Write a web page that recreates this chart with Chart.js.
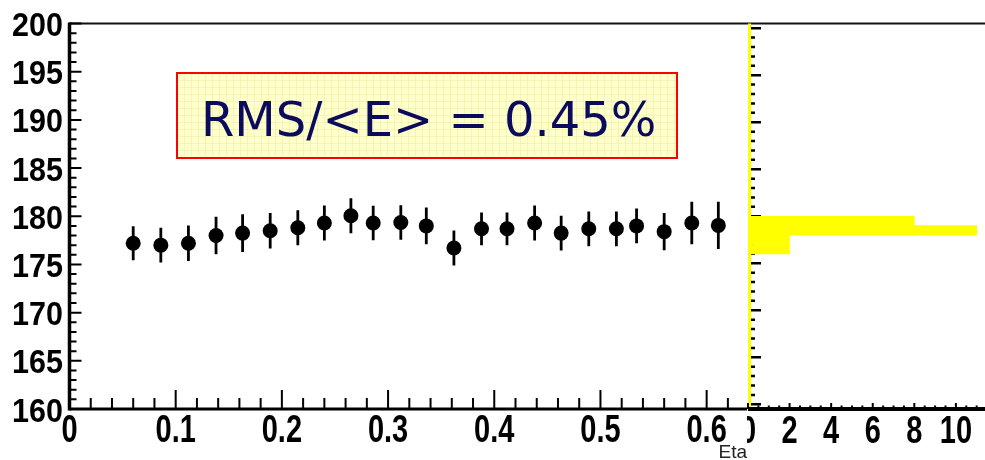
<!DOCTYPE html>
<html>
<head>
<meta charset="utf-8">
<script src="https://cdn.jsdelivr.net/npm/chart.js"></script>
<style>
  html, body { margin: 0; padding: 0; background: #fff; }
  #wrap { position: relative; width: 985px; height: 460px; overflow: hidden; }
  #histCanvas, #etaCanvas { position: absolute; left: 0; top: 0; }
</style>
</head>
<body>
<div id="wrap">
  <canvas id="histCanvas" width="985" height="460"></canvas>
  <canvas id="etaCanvas" width="747" height="460"></canvas>
</div>
<script>
// mean energy in each eta bin, with its error
const etaBins = [0.060, 0.086, 0.112, 0.138, 0.163, 0.189, 0.215, 0.240, 0.265, 0.286, 0.312, 0.336,
                 0.362, 0.388, 0.412, 0.438, 0.463, 0.489, 0.515, 0.534, 0.560, 0.586, 0.611];
const meanE = [177.2, 177.0, 177.2, 178.0, 178.25, 178.5, 178.8, 179.3, 180.05, 179.3, 179.35, 179.0,
               176.7, 178.7, 178.7, 179.3, 178.25, 178.7, 178.7, 179.0, 178.4, 179.3, 179.05];
const meanErr = [1.77, 1.8, 1.85, 1.94, 1.97, 1.85, 1.82, 1.82, 1.82, 1.8, 1.8, 1.9,
                 1.82, 1.7, 1.7, 1.82, 1.8, 1.8, 1.8, 1.8, 1.94, 2.2, 2.46];

// projection of the means onto the energy axis (1 unit bins)
const projBins = [176.5, 177.5, 178.5, 179.5];
const projCounts = [2, 2, 11, 8];

const rmsText = 'RMS/<E> = 0.45%';
const xTitle = 'Eta';

const tickFont = "bold 29px 'Liberation Sans', Arial, sans-serif";
const yTickFont = "bold 30.5px 'Liberation Sans', Arial, sans-serif";

// ROOT style ticks: pointing into the frame, minor and major
function drawTicks(ctx, scale, o) {
  const n = Math.floor((scale.max - scale.min) / o.minor + 1e-6);
  ctx.save();
  ctx.strokeStyle = o.color || '#000';
  ctx.lineWidth = o.width || 2;
  ctx.beginPath();
  for (let k = 0; k <= n; k++) {
    const v = scale.min + k * o.minor;
    const r = v / o.major;
    const len = Math.abs(r - Math.round(r)) < 1e-6 ? o.majorLen : o.minorLen;
    if (scale.isHorizontal()) {
      const x = scale.getPixelForValue(v);
      ctx.moveTo(x, o.base);
      ctx.lineTo(x, o.base - len);
    } else {
      const y = scale.getPixelForValue(v);
      ctx.moveTo(o.base, y);
      ctx.lineTo(o.base + len, y);
    }
  }
  ctx.stroke();
  ctx.restore();
}

// tick labels from the scale's own ticks, the font drawn a bit taller than wide
function drawLabels(ctx, scale, o) {
  ctx.save();
  ctx.fillStyle = '#000';
  ctx.font = o.font;
  ctx.textAlign = o.align;
  ctx.textBaseline = 'alphabetic';
  scale.ticks.forEach(t => {
    const p = scale.getPixelForValue(t.value);
    const x = scale.isHorizontal() ? p : o.x;
    const y = scale.isHorizontal() ? o.y : p + o.dy;
    ctx.save();
    ctx.translate(x, y);
    ctx.scale(1, o.sy);
    ctx.fillText(t.label, 0, 0);
    ctx.restore();
  });
  ctx.restore();
}

function line(ctx, x1, y1, x2, y2, w, c) {
  ctx.save();
  ctx.strokeStyle = c;
  ctx.lineWidth = w;
  ctx.beginPath();
  ctx.moveTo(x1, y1);
  ctx.lineTo(x2, y2);
  ctx.stroke();
  ctx.restore();
}

const etaPlugin = {
  id: 'etaFrame',
  beforeDraw(chart) {
    const ctx = chart.ctx;
    ctx.save();
    ctx.fillStyle = '#fff';
    ctx.fillRect(0, 0, chart.width, chart.height);
    ctx.restore();
  },
  beforeDatasetsDraw(chart) {
    const ctx = chart.ctx;
    const xs = chart.scales.x, ys = chart.scales.y;
    ctx.save();
    ctx.strokeStyle = '#000';
    ctx.lineWidth = 2.8;
    ctx.beginPath();
    etaBins.forEach((e, i) => {
      const x = xs.getPixelForValue(e);
      ctx.moveTo(x, ys.getPixelForValue(meanE[i] + meanErr[i]));
      ctx.lineTo(x, ys.getPixelForValue(meanE[i] - meanErr[i]));
    });
    ctx.stroke();
    ctx.restore();
  },
  afterDraw(chart) {
    const ctx = chart.ctx;
    const a = chart.chartArea;
    const xs = chart.scales.x, ys = chart.scales.y;

    line(ctx, a.left, a.top, chart.width, a.top, 2, '#111');
    line(ctx, a.left, a.top - 1, a.left, a.bottom + 1.5, 3.5, '#000');
    line(ctx, a.left, a.bottom, chart.width, a.bottom, 3, '#000');
    drawTicks(ctx, xs, { minor: 0.02, major: 0.1, majorLen: 19, minorLen: 11, base: a.bottom, width: 2 });
    drawTicks(ctx, ys, { minor: 1, major: 5, majorLen: 12, minorLen: 7, base: a.left, width: 2 });
    drawLabels(ctx, ys, { font: yTickFont, align: 'right', x: a.left - 6.5, dy: 12.5, sy: 1.1 });
    drawLabels(ctx, xs, { font: tickFont, align: 'center', y: a.bottom + 33, sy: 1.36 });

    // text box
    const bx = a.left + 107.5, by = a.top + 49.5, bw = 500, bh = 85;
    ctx.save();
    ctx.fillStyle = '#ffffcc';
    ctx.fillRect(bx, by, bw, bh);
    ctx.strokeStyle = 'rgba(225, 225, 140, 0.35)';
    ctx.lineWidth = 1;
    ctx.beginPath();
    for (let gx = bx + 7; gx < bx + bw; gx += 7) { ctx.moveTo(gx + 0.5, by); ctx.lineTo(gx + 0.5, by + bh); }
    for (let gy = by + 7; gy < by + bh; gy += 7) { ctx.moveTo(bx, gy + 0.5); ctx.lineTo(bx + bw, gy + 0.5); }
    ctx.stroke();
    ctx.strokeStyle = '#ff0000';
    ctx.lineWidth = 2;
    ctx.strokeRect(bx, by, bw, bh);
    ctx.fillStyle = '#0b0b5e';
    ctx.font = "48px 'DejaVu Sans', sans-serif";
    ctx.textAlign = 'left';
    ctx.textBaseline = 'alphabetic';
    ctx.fillText(rmsText, bx + 24, by + 63);

    // axis title
    ctx.fillStyle = '#222';
    ctx.font = "19px 'Liberation Sans', Arial, sans-serif";
    ctx.textAlign = 'right';
    ctx.fillText(xTitle, a.right, 458);
    ctx.restore();
  }
};

const histPlugin = {
  id: 'histFrame',
  beforeDatasetsDraw(chart) {
    const ctx = chart.ctx;
    const a = chart.chartArea;
    line(ctx, 0, a.top, a.right, a.top, 2, '#111');
    drawTicks(ctx, chart.scales.y, { minor: 1, major: 5, majorLen: 10, minorLen: 4, base: a.left + 3, width: 2.5 });
  },
  afterDraw(chart) {
    const ctx = chart.ctx;
    const a = chart.chartArea;
    line(ctx, a.left + 1.5, a.top, a.left + 1.5, a.bottom, 3, '#ffff00');
    line(ctx, a.left, a.bottom, a.right, a.bottom, 4, '#000');
    drawTicks(ctx, chart.scales.x, { minor: 0.5, major: 2, majorLen: 6, minorLen: 3.5, base: a.bottom, width: 2 });
    drawLabels(ctx, chart.scales.x, { font: tickFont, align: 'center', y: a.bottom + 34, sy: 1.36 });
  }
};

new Chart(document.getElementById('histCanvas'), {
  type: 'bar',
  data: {
    datasets: [{
      data: projBins.map((b, i) => ({ x: projCounts[i], y: b })),
      backgroundColor: '#ffff00',
      borderWidth: 0,
      barPercentage: 1,
      categoryPercentage: 1
    }]
  },
  options: {
    indexAxis: 'y',
    responsive: false,
    maintainAspectRatio: false,
    animation: false,
    layout: { autoPadding: false, padding: { left: 748, top: 23.5, right: 0, bottom: 0 } },
    plugins: { legend: { display: false }, tooltip: { enabled: false } },
    scales: {
      x: {
        type: 'linear', min: 0, max: 11.4,
        grid: { display: false, drawTicks: false },
        border: { display: false },
        afterFit: s => { s.height = 51; },
        ticks: { display: false, stepSize: 2, autoSkip: false, includeBounds: false }
      },
      y: {
        type: 'linear', min: 160, max: 200,
        grid: { display: false, drawTicks: false },
        border: { display: false },
        afterFit: s => { s.width = 0; },
        ticks: { display: false, stepSize: 1 }
      }
    }
  },
  plugins: [histPlugin]
});

new Chart(document.getElementById('etaCanvas'), {
  type: 'scatter',
  data: {
    datasets: [{
      data: etaBins.map((e, i) => ({ x: e, y: meanE[i] })),
      pointRadius: 7.5,
      pointHoverRadius: 7.5,
      backgroundColor: '#000',
      borderWidth: 0
    }]
  },
  options: {
    responsive: false,
    maintainAspectRatio: false,
    animation: false,
    layout: { autoPadding: false, padding: { left: 0, top: 23.5, right: 0, bottom: 0 } },
    plugins: { legend: { display: false }, tooltip: { enabled: false } },
    scales: {
      x: {
        type: 'linear', min: 0, max: 0.638,
        grid: { display: false, drawTicks: false },
        border: { display: false },
        afterFit: s => { s.height = 51; },
        ticks: {
          display: false, stepSize: 0.1, autoSkip: false, includeBounds: false,
          callback: v => (Math.abs(v) < 1e-9 ? '0' : v.toFixed(1))
        }
      },
      y: {
        type: 'linear', min: 160, max: 200,
        grid: { display: false, drawTicks: false },
        border: { display: false },
        afterFit: s => { s.width = 69.5; },
        ticks: { display: false, stepSize: 5, autoSkip: false, includeBounds: false }
      }
    }
  },
  plugins: [etaPlugin]
});
</script>
</body>
</html>
